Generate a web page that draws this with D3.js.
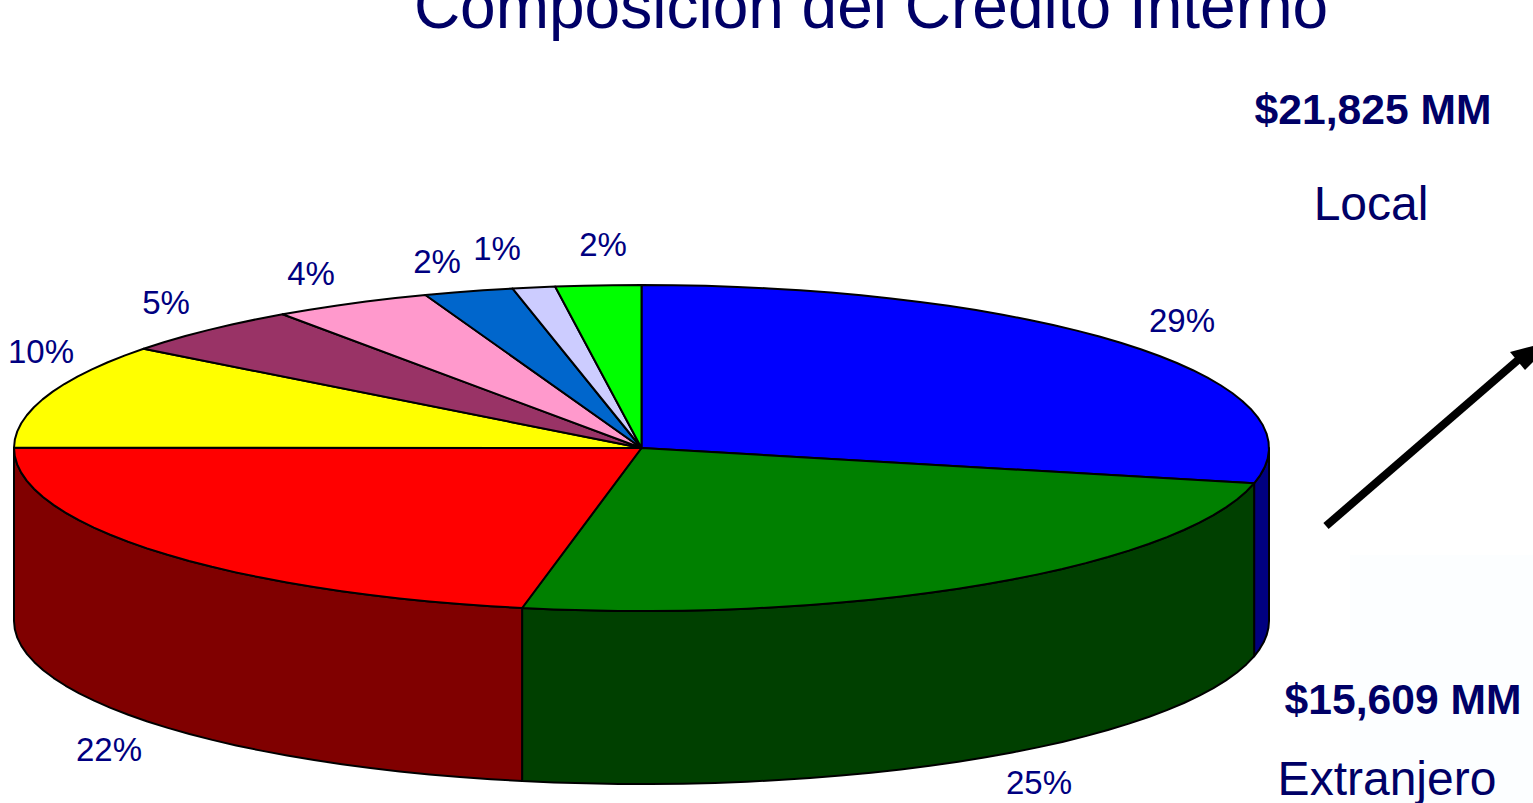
<!DOCTYPE html>
<html><head><meta charset="utf-8">
<script src="https://cdn.jsdelivr.net/npm/d3@7"></script>
<style>html,body{margin:0;padding:0;background:#fff;overflow:hidden}text{font-family:"Liberation Sans",Arial,sans-serif}</style>
</head><body><svg id="c" width="1533" height="803"></svg>
<script>
const categories=["a","b","c","d","e","f","g","h","i"];
const values=[28.5,24.6,22,10.4,4.9,4.1,2.3,1.1,2.2];
const pctLabels=["29%","25%","22%","10%","5%","4%","2%","1%","2%"];
const topColors=["#0000ff","#008000","#ff0000","#ffff00","#993366","#ff99cc","#0066cc","#ccccff","#00ff00"];
const sideColors=["#000080","#004000","#800000","#808000","#4d1a33","#804d66","#003366","#666680","#008000"];
const labelPos=[[1182,321],[1039,783],[109,750],[41,352],[166,303],[311,274],[437,262],[497,249],[603,245]];

const svg=d3.select("#c");
const cx=641.5,cy=448,rx=627.5,ry=163,depth=173;
const X=d3.scaleLinear().domain([-1,1]).range([cx-rx,cx+rx]);
const Y=d3.scaleLinear().domain([-1,1]).range([cy-ry,cy+ry]);
const pie=d3.pie().sort(null).value(d=>d);
const arcs=pie(values);
const line=d3.line().x(d=>d[0]).y(d=>d[1]);
const pt=(a,dz=0)=>[X(Math.sin(a)),Y(-Math.cos(a))+dz];
const step=Math.PI/60;
const samples=(a0,a1,dz=0)=>{const n=Math.max(1,Math.ceil(Math.abs(a1-a0)/step));return d3.range(0,n+1).map(i=>pt(a0+(a1-a0)*i/n,dz));};

svg.append("rect").attr("x",1350).attr("y",555).attr("width",183).attr("height",248).attr("fill","#fcfeff");

const wall=svg.append("g");
arcs.forEach((d,i)=>{
  const a0=Math.max(d.startAngle,Math.PI/2),a1=Math.min(d.endAngle,Math.PI*1.5);
  if(a1<=a0)return;
  const top=samples(a0,a1),bot=samples(a1,a0,depth);
  wall.append("path").attr("d",line(top.concat(bot))+"Z").attr("fill",sideColors[i]).attr("stroke","#000").attr("stroke-width",2).attr("stroke-linejoin","round");
});
const face=svg.append("g");
arcs.forEach((d,i)=>{
  face.append("path").attr("d",line([[cx,cy]].concat(samples(d.startAngle,d.endAngle)))+"Z").attr("fill",topColors[i]).attr("stroke","#000").attr("stroke-width",2).attr("stroke-linejoin","round");
});
svg.append("g").selectAll("text").data(pctLabels).join("text")
 .attr("x",(d,i)=>labelPos[i][0]).attr("y",(d,i)=>labelPos[i][1]+11)
 .attr("text-anchor","middle").attr("font-size",33).attr("fill","#000080").text(d=>d);
const T=(s,x,y,size,w)=>svg.append("text").attr("x",x).attr("y",y).attr("text-anchor","middle").attr("font-size",size).attr("font-weight",w||"normal").attr("fill","#000066").text(s);
T("Composición del Crédito Interno",871,28,64);
T("$21,825 MM",1373,124,42.6,"bold");
T("Local",1371,220,48);
T("$15,609 MM",1403,714,42.6,"bold");
T("Extranjero",1387,795,48);
svg.append("line").attr("x1",1326).attr("y1",526).attr("x2",1518).attr("y2",360).attr("stroke","#000").attr("stroke-width",8);
svg.append("path").attr("d","M1510,352L1533,346L1533,362L1525,370Z").attr("fill","#000");
</script></body></html>
